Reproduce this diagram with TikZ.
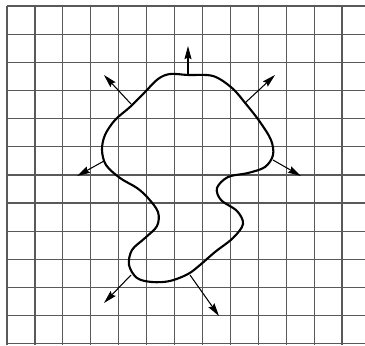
\documentclass[tikz,border=0pt]{standalone}
\usetikzlibrary{arrows.meta}
\begin{document}
\begin{tikzpicture}[x=0.02cm,y=-0.02cm,
  gridline/.style={draw=black!65,line width=0.7pt},
  blob/.style={draw=black,line width=1.2pt},
  normal/.style={draw=black,line width=0.6pt,-{Stealth[length=7.5pt,width=4pt,inset=1pt]}}]
\useasboundingbox (0,0) rectangle (365,345);
\fill[white] (0,0) rectangle (365,345);
% grid
\foreach \k in {0,...,12}{
  \draw[gridline] ({7+27.92*\k},6) -- ({7+27.92*\k},345);
  \draw[gridline] (7,{6+28.15*\k}) -- (365,{6+28.15*\k});
}
% closed curve
\draw[blob] plot[smooth cycle,tension=0.55] coordinates{
(188,75) (213,76) (232,88) (246,104) (260,122) (271,140) (273,155) (265,167)
(248,173) (228,177) (217,188) (221,200) (237,211) (243,224) (233,238) (215,252)
(200,265) (188,274) (170,281) (152,282) (137,278) (129,265) (132,250) (145,238)
(157,226) (158,212) (148,198) (137,188) (120,178) (106,165) (102,150) (105,135)
(115,120) (130,107) (145,92) (158,79) (170,74)};
% normals
\coordinate (t0) at (188,75);  \coordinate (t1) at (188,46);
\coordinate (ur0) at (245,103); \coordinate (ur1) at (275,75);
\coordinate (r0) at (273,160);  \coordinate (r1) at (301,176);
\coordinate (lr0) at (190,275); \coordinate (lr1) at (219,316);
\coordinate (ll0) at (131,275); \coordinate (ll1) at (104,303);
\coordinate (l0) at (104,161);  \coordinate (l1) at (77,176);
\coordinate (ul0) at (131,104); \coordinate (ul1) at (104,75);
\foreach \a in {t,ur,r,lr,ll,l,ul}{\draw[normal] (\a0) -- (\a1);}
\end{tikzpicture}
\end{document}
